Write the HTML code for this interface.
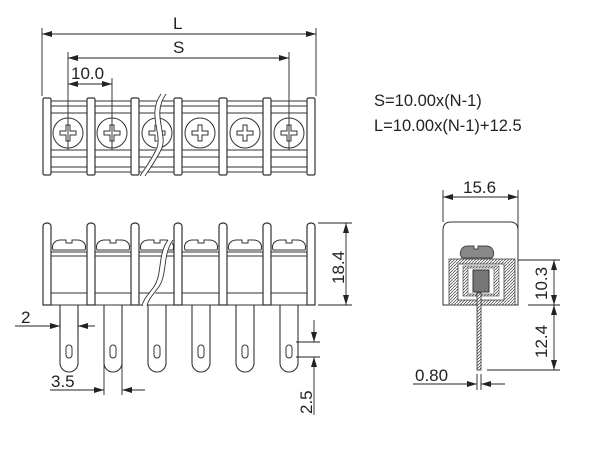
<!DOCTYPE html>
<html><head><meta charset="utf-8"><style>
html,body{margin:0;padding:0;background:#fff;width:600px;height:450px;overflow:hidden}
text{font-family:"Liberation Sans",Arial,sans-serif;fill:#222}
</style></head><body>
<svg width="600" height="450" viewBox="0 0 600 450" xmlns="http://www.w3.org/2000/svg">
<defs>
<marker id="a" viewBox="0 0 10 6" refX="10" refY="3" markerWidth="10" markerHeight="6" orient="auto-start-reverse" markerUnits="userSpaceOnUse"><path d="M0,0L10,3L0,6z" fill="#222"/></marker>
<pattern id="h" width="3" height="3" patternUnits="userSpaceOnUse"><rect width="3" height="3" fill="#fff"/><path d="M0,3L3,0" stroke="#555" stroke-width="0.8"/></pattern>
<g id="cell">
 <circle cx="22" cy="35" r="15" fill="none" stroke="#333" stroke-width="1"/>
 <path d="M20,27h4v6h6v4h-6v6h-4v-6h-6v-4h6z" fill="none" stroke="#333" stroke-width="1"/>
</g>
<g id="post"><rect x="-4" y="0" width="8" height="77" rx="1.5" fill="#fff" stroke="#333" stroke-width="1.2"/></g>
<g id="spost"><path d="M-4,82V3a4,3 0 0 1 8,0V82z" fill="#fff" stroke="#333" stroke-width="1.2"/></g>
<g id="pin"><path d="M-9,0V58a9,9 0 0 0 18,0V0" fill="none" stroke="#333" stroke-width="1.1"/><rect x="-3" y="40" width="6" height="13" rx="3" fill="none" stroke="#333"/></g>
<g id="shead"><path d="M-16,28c-2,-6 2,-10 8,-10h5v3h6v-3h5c6,0 10,4 8,10z" fill="#fff" stroke="#333" stroke-width="1"/></g>
</defs>
<g stroke="#222" stroke-width="0.9" fill="none">
<line x1="42" y1="28" x2="42" y2="96"/><line x1="316" y1="28" x2="316" y2="96"/>
<line x1="42" y1="34" x2="316" y2="34" marker-start="url(#a)" marker-end="url(#a)"/>
<line x1="68" y1="52" x2="68" y2="150"/><line x1="289" y1="52" x2="289" y2="150"/>
<line x1="68" y1="58" x2="289" y2="58" marker-start="url(#a)" marker-end="url(#a)"/>
<line x1="112" y1="78" x2="112" y2="150"/>
<line x1="68" y1="84" x2="112" y2="84" marker-start="url(#a)" marker-end="url(#a)"/>
</g>
<text x="173" y="29" font-size="17">L</text>
<text x="173" y="53" font-size="17">S</text>
<text x="71" y="79" font-size="17">10.0</text>
<g stroke="#333" stroke-width="1" fill="none">
<rect x="46" y="101" width="266" height="71"/>
<line x1="46" y1="106" x2="312" y2="106"/><line x1="46" y1="113" x2="312" y2="113"/>
<line x1="46" y1="150" x2="312" y2="150"/><line x1="46" y1="157" x2="312" y2="157"/><line x1="46" y1="167" x2="312" y2="167"/>
</g>
<use href="#cell" x="46" y="98"/><use href="#cell" x="90" y="98"/><use href="#cell" x="135" y="98"/>
<use href="#cell" x="178" y="98"/><use href="#cell" x="223" y="98"/><use href="#cell" x="267" y="98"/>
<use href="#post" x="47" y="98"/><use href="#post" x="91" y="98"/><use href="#post" x="135" y="98"/><use href="#post" x="178" y="98"/><use href="#post" x="223" y="98"/><use href="#post" x="267" y="98"/><use href="#post" x="311" y="98"/>
<path d="M163,94C148,115 166,135 158,150C152,162 146,170 142,176" fill="none" stroke="#fff" stroke-width="5"/>
<path d="M161,94C146,115 164,135 156,150C150,162 144,170 140,176M166,94C151,115 169,135 161,150C155,162 149,170 145,176" fill="none" stroke="#333" stroke-width="0.9"/>
<text x="374" y="106" font-size="16.5">S=10.00x(N-1)</text>
<text x="374" y="131" font-size="16.5">L=10.00x(N-1)+12.5</text>
<g stroke="#333" stroke-width="1" fill="none">
<line x1="46" y1="252" x2="312" y2="252"/><line x1="46" y1="256" x2="312" y2="256"/>
<line x1="46" y1="293" x2="312" y2="293"/><line x1="46" y1="305" x2="312" y2="305"/>
</g>
<use href="#shead" x="69" y="222"/><use href="#shead" x="113" y="222"/><use href="#shead" x="157" y="222"/><use href="#shead" x="201" y="222"/><use href="#shead" x="245" y="222"/><use href="#shead" x="289" y="222"/>
<use href="#pin" x="69" y="305"/><use href="#pin" x="113" y="305"/><use href="#pin" x="157" y="305"/><use href="#pin" x="201" y="305"/><use href="#pin" x="245" y="305"/><use href="#pin" x="289" y="305"/>
<use href="#spost" x="47" y="223"/><use href="#spost" x="91" y="223"/><use href="#spost" x="135" y="223"/><use href="#spost" x="178" y="223"/><use href="#spost" x="223" y="223"/><use href="#spost" x="267" y="223"/><use href="#spost" x="311" y="223"/>
<path d="M171,240C160,255 166,275 156,288C150,296 146,300 145,306" fill="none" stroke="#fff" stroke-width="5"/>
<path d="M168,240C157,255 163,275 153,288C147,296 143,300 142,306M173,240C162,255 168,275 158,288C152,296 148,300 147,306" fill="none" stroke="#333" stroke-width="0.9"/>
<g stroke="#222" stroke-width="0.9" fill="none">
<line x1="318" y1="223" x2="352" y2="223"/><line x1="318" y1="305" x2="352" y2="305"/>
<line x1="346" y1="223" x2="346" y2="305" marker-start="url(#a)" marker-end="url(#a)"/>
<line x1="15" y1="326" x2="60" y2="326" marker-end="url(#a)"/><line x1="95" y1="326" x2="78" y2="326" marker-end="url(#a)"/>
<line x1="60" y1="312" x2="60" y2="330"/><line x1="78" y1="312" x2="78" y2="330"/>
<line x1="104" y1="365" x2="104" y2="395"/><line x1="122" y1="365" x2="122" y2="395"/>
<line x1="50" y1="390" x2="104" y2="390" marker-end="url(#a)"/><line x1="145" y1="390" x2="122" y2="390" marker-end="url(#a)"/>
<line x1="296" y1="342" x2="320" y2="342"/><line x1="296" y1="357" x2="320" y2="357"/>
<line x1="314" y1="320" x2="314" y2="342" marker-end="url(#a)"/><line x1="314" y1="415" x2="314" y2="357" marker-end="url(#a)"/>
</g>
<text font-size="17" transform="translate(344,284) rotate(-90)">18.4</text>
<text x="21" y="323" font-size="17">2</text>
<text x="51" y="387" font-size="17">3.5</text>
<text font-size="17" transform="translate(312,414) rotate(-90)">2.5</text>
<g stroke="#222" stroke-width="0.9" fill="none">
<line x1="443" y1="190" x2="443" y2="222"/><line x1="518" y1="190" x2="518" y2="260"/>
<line x1="443" y1="197" x2="518" y2="197" marker-start="url(#a)" marker-end="url(#a)"/>
</g>
<text x="463" y="193" font-size="17">15.6</text>
<path d="M443,305V230q0,-8 8,-8h59q8,0 8,8V305z" fill="#fff" stroke="#333" stroke-width="1"/>
<path d="M462,258c-3,-4 -2,-12 6,-12h6v3h4v-3h8c8,0 9,8 6,12z" fill="#888" stroke="#444"/>
<rect x="449" y="259" width="66" height="46" fill="url(#h)" stroke="#444" stroke-width="0.8"/>
<rect x="458" y="264" width="46" height="36" fill="#fff" stroke="#444" stroke-width="0.8"/>
<rect x="463" y="266" width="36" height="30" fill="url(#h)" stroke="#444" stroke-width="0.6"/>
<rect x="468" y="268" width="26" height="26" fill="#fff" stroke="#444" stroke-width="0.6"/>
<rect x="473" y="270" width="16" height="22" fill="#777" stroke="#333"/>
<rect x="477" y="293" width="4" height="77" fill="url(#h)" stroke="#333" stroke-width="0.8"/>
<g stroke="#222" stroke-width="0.9" fill="none">
<line x1="518" y1="260" x2="560" y2="260"/><line x1="528" y1="305" x2="560" y2="305"/><line x1="487" y1="370" x2="560" y2="370"/>
<line x1="554" y1="260" x2="554" y2="305" marker-start="url(#a)" marker-end="url(#a)"/>
<line x1="554" y1="305" x2="554" y2="370" marker-start="url(#a)" marker-end="url(#a)"/>
<line x1="477" y1="374" x2="477" y2="390"/><line x1="481" y1="374" x2="481" y2="390"/>
<line x1="413" y1="384" x2="477" y2="384" marker-end="url(#a)"/><line x1="505" y1="384" x2="481" y2="384" marker-end="url(#a)"/>
</g>
<text font-size="17" transform="translate(547,300) rotate(-90)">10.3</text>
<text font-size="17" transform="translate(547,358) rotate(-90)">12.4</text>
<text x="415" y="381" font-size="17">0.80</text>
</svg>
</body></html>
